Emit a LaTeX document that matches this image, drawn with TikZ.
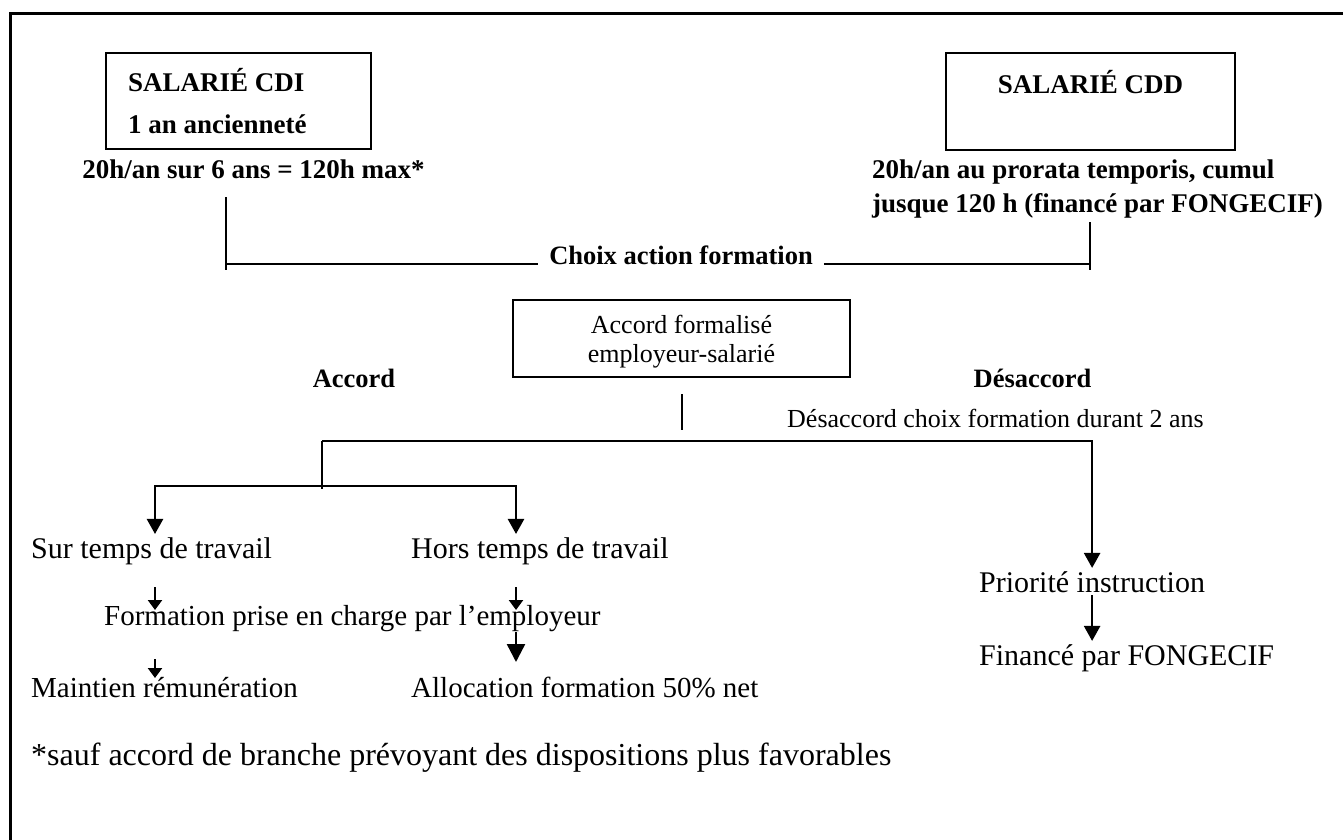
\documentclass[tikz,border=0pt]{standalone}
\usepackage{fontspec}
\setmainfont{Liberation Serif}
\usetikzlibrary{arrows.meta}

\newcommand{\fhead}{\fontsize{27}{34}\selectfont\bfseries}
\newcommand{\fbold}{\fontsize{26.5}{30}\selectfont\bfseries}
\newcommand{\fbody}{\fontsize{30}{34}\selectfont}
\newcommand{\fmid}{\fontsize{29}{34}\selectfont}
\newcommand{\fsmall}{\fontsize{26}{30}\selectfont}
\newcommand{\finner}{\fontsize{26}{29}\selectfont}
\newcommand{\fnote}{\fontsize{32}{36}\selectfont}

\tikzset{
  frame/.style={line width=3pt},
  salbox/.style={draw, line width=2.5pt},
  lbl/.style={inner sep=3pt},
  link/.style={line width=2.4pt},
  arr/.style={link, -{Triangle[width=16pt,length=15pt]}},
  arrs/.style={link, {Triangle[width=16pt,length=15pt]}-{Triangle[width=16pt,length=15pt]}},
  smallarr/.style={link, -{Triangle[width=14pt,length=10pt]}},
  bigarr/.style={link, -{Triangle[width=18pt,length=18pt]}}
}

\begin{document}
\begin{tikzpicture}[x=1pt,y=-1pt]
  \useasboundingbox (0,0) rectangle (1343,840);
  \draw[frame] (10,840) -- (10,14) -- (1343,14);

  % les deux salaries
  \node[salbox, minimum width=265pt, minimum height=96pt, text width=221pt,
    inner xsep=22pt, align=flush left, font=\fhead,
    execute at begin node=\setlength{\baselineskip}{42pt}] (cdi) at (238.5,101)
    {SALARIÉ CDI\\1 an ancienneté};
  \node[salbox, minimum width=289pt, text height=20pt, text depth=36pt,
    inner ysep=20.5pt, font=\fhead] (cdd) at (1090.5,101.5) {SALARIÉ CDD};

  \node[lbl, anchor=base, font=\fhead] (cdih) at (253.5,178)
    {20h/an sur 6 ans = 120h max*};
  \node[lbl, anchor=base west, align=left, font=\fhead] (cddh) at (869,212)
    {20h/an au prorata temporis, cumul\\jusque 120 h (financé par FONGECIF)};

  % choix
  \node[lbl, inner xsep=11pt, anchor=base, font=\fbold] (choix) at (681,264)
    {Choix action formation};
  \coordinate (cdistem) at (226,197);
  \coordinate (cddstem) at (1090,222);
  \draw[link] (cdistem) -- ++(0,73);
  \draw[link] (cdistem |- choix.base) -- (choix.base west);
  \draw[link] (cddstem) -- ++(0,48);
  \draw[link] (choix.base east) -- (cddstem |- choix.base);

  \node[salbox, minimum width=337pt, minimum height=77pt, align=center,
    font=\finner] (accord) at (681.5,338.5) {};
  \node[align=center, font=\finner, anchor=base] (accordtxt) at (681.5,362)
    {Accord formalisé\\employeur-salarié};
  \node[lbl, anchor=base, font=\fbold] (oui) at (354,387) {Accord};
  \node[lbl, anchor=base, font=\fbold] (non) at (1032.5,387) {Désaccord};
  \node[lbl, anchor=base west, font=\fsmall] (nondet) at (784,427)
    {Désaccord choix formation durant 2 ans};

  \coordinate (stemtop) at (682,394);
  \coordinate (stembot) at (682,430);
  \draw[link] (stemtop) -- (stembot);

  % desaccord
  \coordinate (split) at (322,441);
  \node[lbl, anchor=base west, font=\fbody] (prio) at (976,592) {Priorité instruction};
  \node[lbl, anchor=base west, font=\fbody] (fin) at (976,665) {Financé par FONGECIF};
  \draw[arr] (split) -| (prio.north);
  \draw[arr] (prio.south) -- (prio.south |- fin.north);

  % accord
  \node[lbl, anchor=base west, font=\fbody] (sur) at (28,558) {Sur temps de travail};
  \node[lbl, anchor=base west, font=\fbody] (hors) at (408,558) {Hors temps de travail};
  \coordinate (branch) at (322,489);
  \coordinate (left) at (155,486);
  \coordinate (right) at (516,486);
  \draw[link] (split) -- (branch);
  \draw[arrs] (left |- sur.north) -- (left) -- (right) -- (right |- hors.north);

  \node[lbl, anchor=base west, font=\fmid] (form) at (101,625)
    {Formation prise en charge par l’employeur};
  \node[lbl, anchor=base west, font=\fmid] (maint) at (28,697) {Maintien rémunération};
  \node[lbl, anchor=base west, font=\fmid] (alloc) at (408,697) {Allocation formation 50\% net};

  \coordinate (t1) at (155,587);
  \coordinate (t2) at (516,587);
  \coordinate (t3) at (155,659);
  \coordinate (t4) at (516,632);
  \foreach \c/\l in {t1/23, t2/23, t3/19}
    \draw[smallarr] (\c) -- ++(0,\l);
  \draw[bigarr] (t4) -- ++(0,30);

  \node[lbl, anchor=base west, font=\fnote] (note) at (28,765)
    {*sauf accord de branche prévoyant des dispositions plus favorables};
\end{tikzpicture}
\end{document}
